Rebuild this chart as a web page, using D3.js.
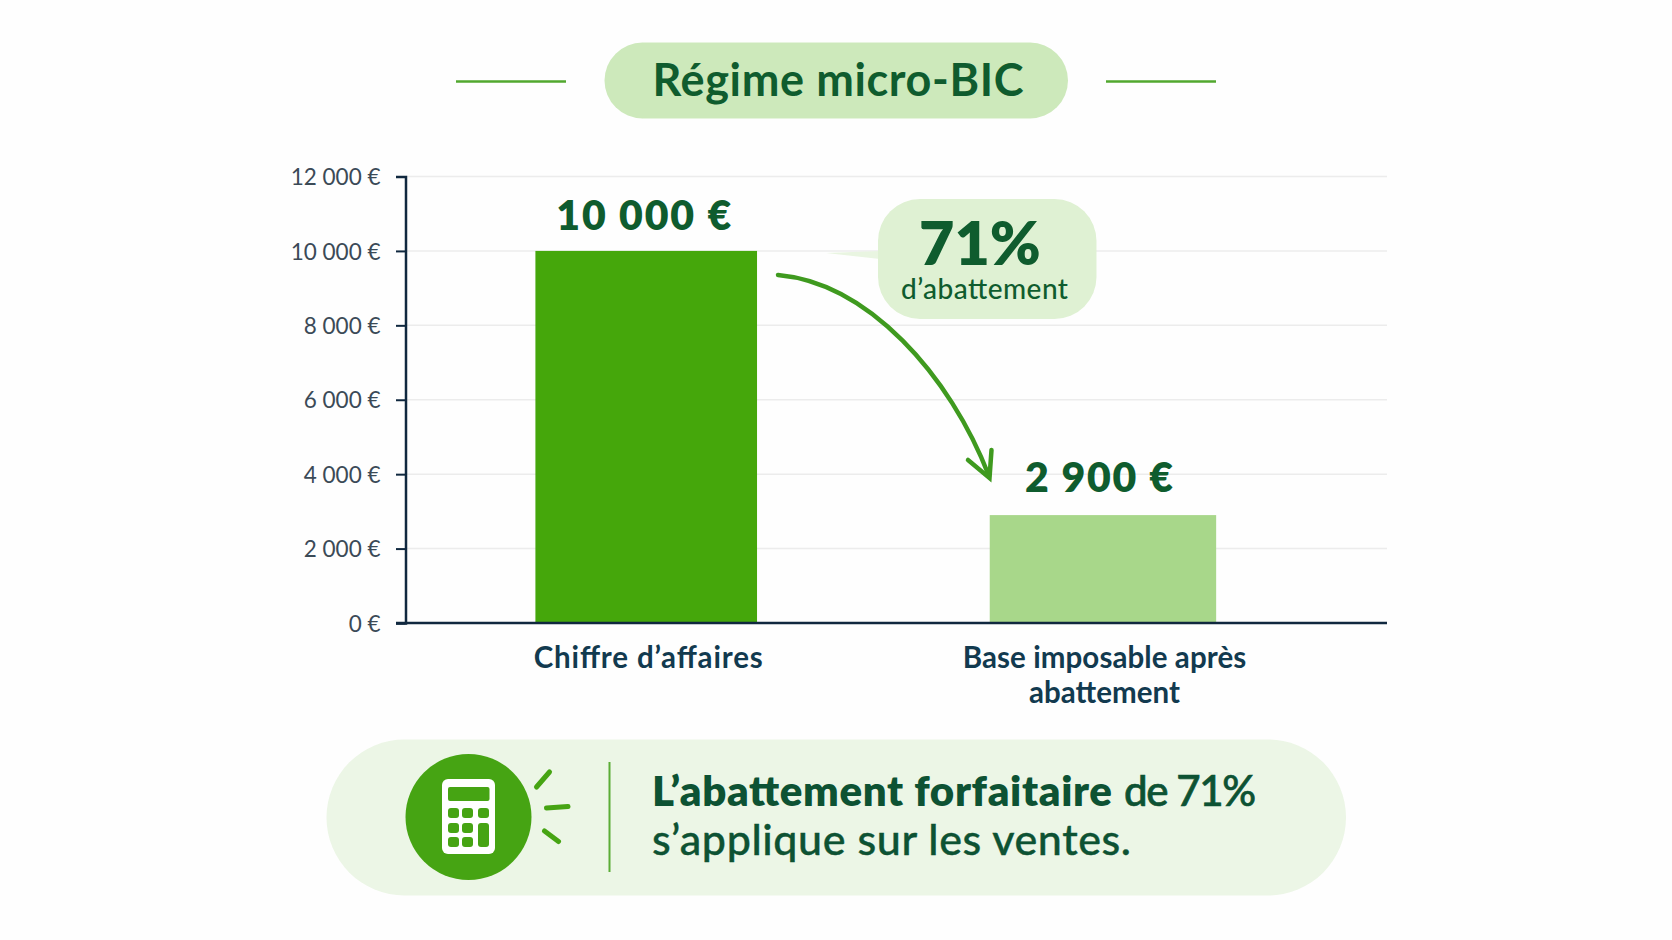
<!DOCTYPE html>
<html lang="fr">
<head>
<meta charset="utf-8">
<title>Régime micro-BIC</title>
<script src="https://cdn.jsdelivr.net/npm/d3@7/dist/d3.min.js"></script>
<style>
html,body{margin:0;padding:0;background:#fefefe;}
svg{display:block;font-family:Lato,"Open Sans",sans-serif;}
</style>
</head>
<body>
<svg id="chart" width="1672" height="940"></svg>
<script>
const chartTitle = "Régime micro-BIC";
const categories = ["Chiffre d’affaires", "Base imposable après abattement"];
const categoryLines = [["Chiffre d’affaires"], ["Base imposable après", "abattement"]];
const values = [10000, 2900];
const valueLabels = ["10 000 €", "2 900 €"];
const yTickValues = [0, 2000, 4000, 6000, 8000, 10000, 12000];
const yTickLabels = ["0 €", "2 000 €", "4 000 €", "6 000 €", "8 000 €", "10 000 €", "12 000 €"];
const barColors = ["#45a70b", "#a8d78a"];
const calloutBig = "71%";
const calloutSmall = "d’abattement";
const noteBold = "L’abattement forfaitaire";
const noteTail = "de 71%";
const noteLine2 = "s’applique sur les ventes.";

const svg = d3.select("#chart");
const DARK = "#0f5c2e", AXIS = "#10283f", MID = "#46a413", NOTE = "#0d5233";

const y = d3.scaleLinear().domain([0, 12000]).range([623, 176.5]);
const x = d3.scaleBand().domain(categories).range([406, 1387])
  .paddingInner(0.5095).paddingOuter(0.3287).align(0.427);
const barInset = [1.2, -1.2];

svg.append("rect").attr("width", 1672).attr("height", 940).attr("fill", "#fefefe");

// Title
svg.append("rect").attr("x", 604.5).attr("y", 42.5).attr("width", 463.5).attr("height", 76)
  .attr("rx", 38).attr("fill", "#cde9bb");
svg.selectAll("line.deco").data([[456, 566], [1106, 1216]]).join("line").attr("class", "deco")
  .attr("x1", d => d[0]).attr("x2", d => d[1]).attr("y1", 81.5).attr("y2", 81.5)
  .attr("stroke", "#52a82f").attr("stroke-width", 2.5);
svg.append("text").attr("x", 838).attr("y", 95.5).attr("text-anchor", "middle")
  .attr("font-size", 45).attr("font-weight", 700).attr("fill", DARK)
  .attr("textLength", 371).text(chartTitle);

// Grid
svg.append("g").selectAll("line").data(yTickValues.filter(d => d > 0)).join("line")
  .attr("x1", 406).attr("x2", 1387).attr("y1", d => y(d)).attr("y2", d => y(d))
  .attr("stroke", "#ececec").attr("stroke-width", 1.5);

// Callout tail + bars
svg.append("path").attr("d", "M826,253 L880,251 L880,259 Z").attr("fill", "#e9f5e1");
svg.append("g").selectAll("rect").data(categories).join("rect")
  .attr("x", (d, i) => x(d) + barInset[i]).attr("width", (d, i) => x.bandwidth() - 2 * barInset[i])
  .attr("y", (d, i) => y(values[i])).attr("height", (d, i) => y(0) - y(values[i]))
  .attr("fill", (d, i) => barColors[i]);

// Axes
const yAxis = d3.axisLeft(y).tickValues(yTickValues).tickSize(9.5).tickPadding(15.5)
  .tickFormat((d, i) => yTickLabels[i]);
const gy = svg.append("g").attr("transform", "translate(405.5,0)").call(yAxis);
gy.select(".domain").attr("stroke", AXIS).attr("stroke-width", 2.5);
gy.selectAll(".tick line").attr("stroke", AXIS).attr("stroke-width", 2);
gy.selectAll(".tick text").attr("font-family", "Lato").attr("font-size", 22.5)
  .attr("fill", "#3b4a57").attr("dy", "0.36em");
svg.append("line").attr("x1", 396).attr("x2", 1387).attr("y1", y(0)).attr("y2", y(0))
  .attr("stroke", AXIS).attr("stroke-width", 2.5);

// Category labels
const catWidths = [[229], [283.6, 151]];
const catShift = [2, 1.5];
categories.forEach((c, i) => {
  categoryLines[i].forEach((ln, j) => {
    svg.append("text").attr("x", x(c) + x.bandwidth() / 2 + catShift[i]).attr("y", 667.5 + j * 35)
      .attr("text-anchor", "middle").attr("font-size", 29.5).attr("font-weight", 700)
      .attr("fill", "#123a4f").attr("textLength", catWidths[i][j]).text(ln);
  });
});

// Value labels
const valueWidths = [175, 148];
const valueShift = [-2.5, -4];
svg.append("g").selectAll("text").data(categories).join("text")
  .attr("x", (d, i) => x(d) + x.bandwidth() / 2 + valueShift[i])
  .attr("y", (d, i) => y(values[i]) - (i ? 23 : 20.5))
  .attr("text-anchor", "middle").attr("font-size", 41).attr("font-weight", 800)
  .attr("fill", DARK).attr("textLength", (d, i) => valueWidths[i]).text((d, i) => valueLabels[i]);

// Callout
svg.append("rect").attr("x", 878).attr("y", 199).attr("width", 218.5).attr("height", 120)
  .attr("rx", 42).attr("fill", "#dff1d3");
svg.append("text").attr("x", 980).attr("y", 265).attr("text-anchor", "middle")
  .attr("font-size", 61).attr("font-weight", 800).attr("fill", DARK).text(calloutBig);
svg.append("text").attr("x", 984.5).attr("y", 299).attr("text-anchor", "middle")
  .attr("font-size", 28).attr("font-weight", 500).attr("fill", DARK)
  .attr("textLength", 167).text(calloutSmall);

// Arrow
svg.append("path").attr("d", "M778,275 C868,283 950,375 989,476")
  .attr("fill", "none").attr("stroke", "#3f9a1f").attr("stroke-width", 4.5).attr("stroke-linecap", "round");
svg.append("path").attr("d", "M968,460 L989.5,478 L991.5,450")
  .attr("fill", "none").attr("stroke", "#3f9a1f").attr("stroke-width", 4.5)
  .attr("stroke-linecap", "round").attr("stroke-linejoin", "miter");

// Bottom note
svg.append("rect").attr("x", 326.5).attr("y", 739.5).attr("width", 1019.5).attr("height", 156)
  .attr("rx", 78).attr("fill", "#ecf6e6");
svg.append("circle").attr("cx", 468.5).attr("cy", 817).attr("r", 63).attr("fill", MID);
svg.append("rect").attr("x", 442).attr("y", 779).attr("width", 53).attr("height", 75).attr("rx", 6).attr("fill", "#fff");
svg.append("rect").attr("x", 448).attr("y", 787).attr("width", 41.5).attr("height", 14).attr("rx", 2).attr("fill", MID);
[[448,808,11,10],[462,808,11,10],[478,808,11,10],
 [448,823,11,10],[462,823,11,10],[478,823,11,24],
 [448,837,11,10],[462,837,11,10]].forEach(b => {
  svg.append("rect").attr("x", b[0]).attr("y", b[1]).attr("width", b[2]).attr("height", b[3])
    .attr("rx", 3).attr("fill", MID);
});
[[536.5,787,549.5,772],[546.5,808,568,806.5],[544.5,831,558.5,841.5]].forEach(r => {
  svg.append("line").attr("x1", r[0]).attr("y1", r[1]).attr("x2", r[2]).attr("y2", r[3])
    .attr("stroke", MID).attr("stroke-width", 5).attr("stroke-linecap", "round");
});
svg.append("line").attr("x1", 609.5).attr("x2", 609.5).attr("y1", 762).attr("y2", 872)
  .attr("stroke", "#5bad36").attr("stroke-width", 2);
svg.append("text").attr("x", 652).attr("y", 805.5).attr("font-size", 42).attr("font-weight", 800)
  .attr("fill", NOTE).attr("textLength", 460).text(noteBold);
svg.append("text").attr("x", 1124).attr("y", 805.5).attr("font-size", 42).attr("font-weight", 500)
  .attr("fill", NOTE).attr("stroke", NOTE).attr("stroke-width", 0.7)
  .attr("textLength", 132).text(noteTail);
svg.append("text").attr("x", 652).attr("y", 855).attr("font-size", 43).attr("font-weight", 500)
  .attr("fill", NOTE).attr("stroke", NOTE).attr("stroke-width", 0.4)
  .attr("textLength", 479).text(noteLine2);
</script>
</body>
</html>
